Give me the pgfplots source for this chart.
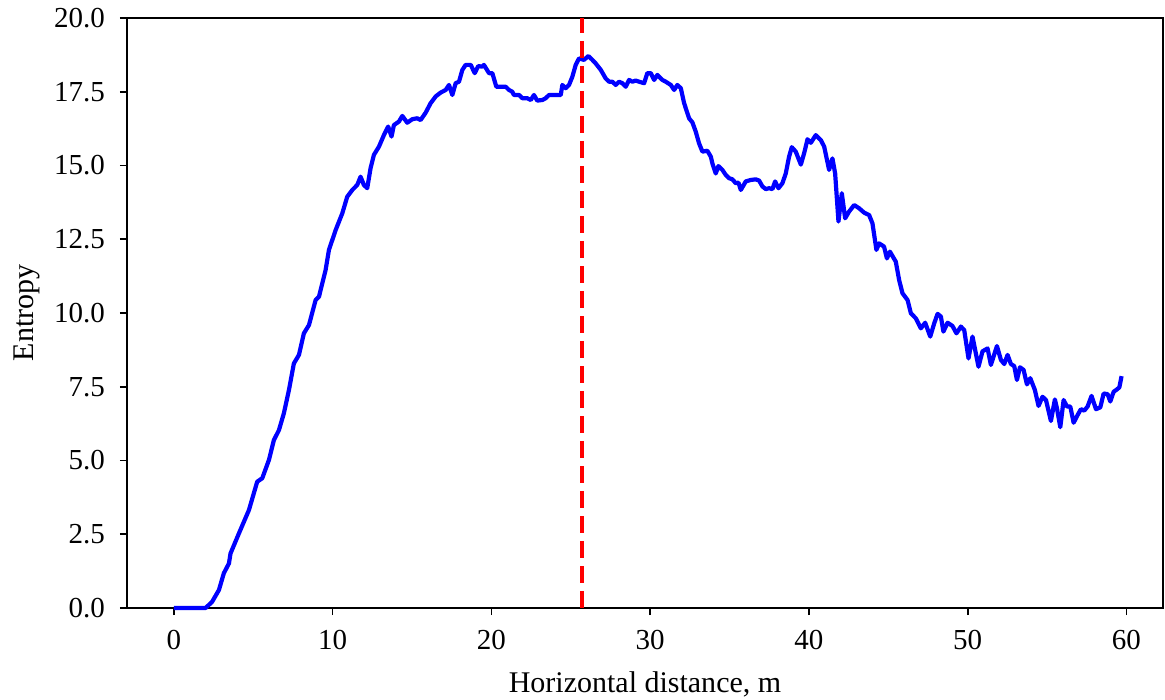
\documentclass[border=0pt]{standalone}
\usepackage{fontspec}
\setmainfont{Liberation Serif}
\usepackage{pgfplots}
\pgfplotsset{compat=1.18}
\begin{document}
\begin{tikzpicture}
\begin{axis}[
  name=ax,
  scale only axis,
  width=518pt, height=295pt,
  xmin=-2.95, xmax=62.3,
  ymin=0, ymax=20,
  xtick={0,10,20,30,40,50,60},
  ytick={0,2.5,5,7.5,10,12.5,15,17.5,20},
  yticklabel style={/pgf/number format/fixed, /pgf/number format/fixed zerofill, /pgf/number format/precision=1, xshift=-4pt},
  /pgf/number format/assume math mode=true,
  tick label style={font=\fontsize{14.5}{16}\selectfont},
  label style={font=\fontsize{15}{17}\selectfont},
  xlabel={Horizontal distance, m},
  ylabel={Entropy},
  tick align=outside,
  tickpos=left,
  major tick length=3.5pt,
  axis line style={line width=0.8pt},
  every tick/.style={line width=0.8pt, black},
  xticklabel style={yshift=-4pt},
  xlabel style={yshift=-4pt},
  ylabel style={yshift=0pt},
  clip=false,
]
\addplot[blue, line width=2.1pt, line join=round] coordinates {
(0,0) (2.0,0.0) (2.41,0.21) (2.84,0.61) (3.15,1.18) (3.47,1.51) (3.57,1.85)
(4.10,2.53) (4.73,3.32) (5.25,4.28) (5.57,4.40) (5.99,5.02) (6.30,5.69)
(6.62,6.03) (6.93,6.60) (7.25,7.39) (7.56,8.29) (7.88,8.58) (8.19,9.31)
(8.51,9.59) (8.93,10.44) (9.14,10.55) (9.56,11.46) (9.77,12.14) (10.19,12.81)
(10.61,13.38) (10.92,13.94) (11.24,14.17) (11.55,14.34) (11.76,14.62)
(11.97,14.34) (12.18,14.23) (12.39,14.91) (12.60,15.36) (12.92,15.64)
(13.23,16.03) (13.50,16.32) (13.71,15.98) (13.86,16.37) (14.18,16.49)
(14.39,16.68) (14.70,16.45) (15.02,16.57) (15.33,16.60) (15.54,16.54)
(15.86,16.79) (16.17,17.11) (16.49,17.34) (16.80,17.47) (17.12,17.56)
(17.33,17.73) (17.54,17.39) (17.75,17.79) (17.96,17.84) (18.17,18.24)
(18.38,18.41) (18.70,18.41) (18.95,18.13) (19.17,18.37) (19.43,18.35)
(19.53,18.41) (19.85,18.13) (20.06,18.13) (20.31,17.67) (20.48,17.67)
(20.90,17.67) (21.11,17.56) (21.32,17.50) (21.42,17.39) (21.74,17.39)
(21.95,17.28) (22.26,17.28) (22.48,17.22) (22.68,17.39) (22.89,17.20)
(23.21,17.22) (23.42,17.28) (23.63,17.39) (24.05,17.39) (24.37,17.39)
(24.47,17.73) (24.68,17.62) (24.89,17.73) (25.10,18.01) (25.31,18.41)
(25.52,18.63) (25.83,18.58) (26.11,18.71) (26.36,18.58) (26.57,18.46)
(26.89,18.24) (27.20,17.95) (27.41,17.84) (27.62,17.84) (27.83,17.73)
(28.04,17.84) (28.25,17.79) (28.46,17.67) (28.67,17.90) (28.88,17.84)
(29.09,17.88) (29.30,17.84) (29.62,17.79) (29.82,18.13) (30.04,18.13)
(30.25,17.90) (30.45,18.07) (30.77,17.90) (30.98,17.84) (31.30,17.73)
(31.51,17.56) (31.71,17.73) (31.93,17.62) (32.14,17.11) (32.45,16.60)
(32.66,16.46) (32.87,16.15) (33.08,15.75) (33.29,15.47) (33.60,15.50)
(33.82,15.30) (33.92,15.07) (34.13,14.73) (34.30,14.98) (34.55,14.85)
(34.76,14.68) (34.97,14.57) (35.18,14.53) (35.39,14.40) (35.56,14.42)
(35.71,14.17) (36.02,14.46) (36.34,14.51) (36.65,14.53) (36.86,14.49)
(37.07,14.29) (37.28,14.20) (37.49,14.23) (37.70,14.20) (37.87,14.46)
(38.08,14.23) (38.33,14.40) (38.54,14.73) (38.75,15.30) (38.92,15.62)
(39.17,15.47) (39.49,15.03) (39.70,15.42) (39.91,15.89) (40.12,15.77)
(40.43,16.03) (40.75,15.86) (40.96,15.64) (41.27,14.85) (41.48,15.24)
(41.65,14.73) (41.86,13.10) (42.07,14.06) (42.28,13.21) (42.53,13.44)
(42.85,13.66) (43.16,13.55) (43.48,13.40) (43.79,13.32) (44.00,13.04)
(44.25,12.14) (44.42,12.36) (44.73,12.25) (44.91,11.85) (45.10,12.08)
(45.47,11.74) (45.68,11.12) (45.89,10.67) (46.21,10.44) (46.42,9.99)
(46.73,9.82) (47.05,9.48) (47.32,9.67) (47.64,9.20) (47.89,9.65)
(48.10,9.97) (48.31,9.88) (48.47,9.37) (48.73,9.67) (49.04,9.56)
(49.29,9.31) (49.57,9.54) (49.78,9.42) (50.05,8.46) (50.30,9.20)
(50.68,8.18) (50.93,8.70) (51.25,8.80) (51.46,8.24) (51.84,8.88)
(52.09,8.41) (52.30,8.27) (52.51,8.58) (52.72,8.27) (52.93,8.20)
(53.10,7.73) (53.29,8.16) (53.52,8.07) (53.73,7.58) (53.94,7.79)
(54.23,7.39) (54.46,6.85) (54.71,7.16) (54.93,7.05) (55.24,6.34)
(55.49,7.07) (55.62,6.77) (55.83,6.13) (56.04,7.05) (56.25,6.83)
(56.46,6.83) (56.67,6.28) (56.92,6.54) (57.13,6.74) (57.34,6.69)
(57.55,6.83) (57.80,7.19) (58.08,6.74) (58.35,6.80) (58.56,7.27)
(58.81,7.25) (58.98,7.00) (59.19,7.33) (59.40,7.41) (59.55,7.48)
(59.69,7.86)
};
\addplot[red, line width=2pt, dash pattern=on 8.5pt off 4pt] coordinates {(25.72,0) (25.72,20)};
\end{axis}
\pgfresetboundingbox
\path ([xshift=-63.5pt,yshift=-46pt]ax.south west) rectangle ([xshift=1pt,yshift=9pt]ax.north east);
\end{tikzpicture}
\end{document}
